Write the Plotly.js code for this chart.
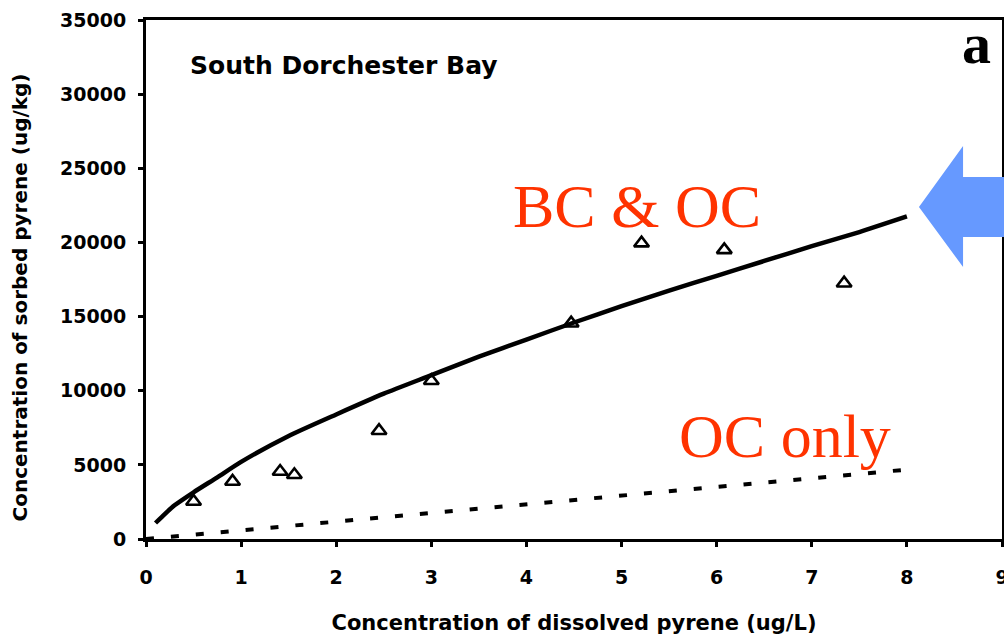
<!DOCTYPE html>
<html>
<head>
<meta charset="utf-8">
<script src="https://cdn.plot.ly/plotly-3.0.1.min.js"></script>
<style>
  html, body { margin: 0; padding: 0; background: #ffffff; }
  #chart { width: 1004px; height: 636px; }
</style>
</head>
<body>
<div id="chart"></div>
<script>
// Observed sorption data (triangles)
const obsX = [0.50, 0.91, 1.41, 1.56, 2.45, 3.00, 4.47, 5.21, 6.08, 7.34];
const obsY = [2530, 3880, 4550, 4330, 7300, 10670, 14550, 19950, 19500, 17250];

// BC & OC model curve (solid)
const bcocX = [0.1, 0.2, 0.3, 0.5, 0.75, 1, 1.5, 2, 2.5, 3, 3.5, 4, 4.5, 5, 5.5, 6, 6.5, 7, 7.5, 8];
const bcocY = [1080, 1700, 2270, 3150, 4160, 5200, 6950, 8400, 9800, 11050, 12300, 13450, 14600, 15700, 16750, 17750, 18750, 19750, 20700, 21750];

// OC only model line (dashed)
const ocX = [0, 2, 4, 6, 8];
const ocY = [0, 1170, 2340, 3510, 4680];

// Tick values
const xTicks = [0, 1, 2, 3, 4, 5, 6, 7, 8, 9];
const yTicks = [0, 5000, 10000, 15000, 20000, 25000, 30000, 35000];

const tickFont = {family: 'DejaVu Sans, Arial, sans-serif', size: 19, color: '#000', weight: 'bold'};
const titleFont = {family: 'DejaVu Sans, Arial, sans-serif', size: 20, color: '#000', weight: 'bold'};
const red = '#ff3300';

const traces = [
  {x: ocX, y: ocY, mode: 'lines', line: {color: '#000', width: 4, dash: '8px,17px'}, hoverinfo: 'skip', showlegend: false},
  {x: bcocX, y: bcocY, mode: 'lines', line: {color: '#000', width: 4.5, shape: 'spline', smoothing: 0.6}, showlegend: false},
  {x: obsX, y: obsY, mode: 'markers', marker: {symbol: 'triangle-up-open', size: 13, color: '#000', line: {width: 2.6, color: '#000'}}, showlegend: false}
];

const axisCommon = {
  showgrid: false, zeroline: false, showline: true, linecolor: '#000', linewidth: 3,
  mirror: true, ticks: 'outside', ticklen: 5, tickwidth: 3, tickcolor: '#000',
  tickfont: tickFont, ticklabeloverflow: 'allow'
};

const layout = {
  width: 1004, height: 636,
  margin: {l: 146, r: 2, t: 20, b: 97},
  paper_bgcolor: '#fff', plot_bgcolor: '#fff',
  showlegend: false,
  xaxis: Object.assign({}, axisCommon, {
    range: [0, 9], tickvals: xTicks, ticktext: xTicks.map(String),
    ticklabelstandoff: 14,
    title: {text: 'Concentration of dissolved pyrene (ug/L)', font: {family: titleFont.family, size: 21, color: '#000', weight: 'bold'}, standoff: 29}
  }),
  yaxis: Object.assign({}, axisCommon, {
    range: [0, 35000], tickvals: yTicks, ticktext: yTicks.map(String),
    ticklabelstandoff: 8
  }),
  xaxis2: {overlaying: 'x', range: [0, 9], tickvals: xTicks, showticklabels: false, ticks: 'inside', ticklen: 5, tickwidth: 3, tickcolor: '#000', showgrid: false, zeroline: false, showline: false, anchor: 'y'},
  yaxis2: {overlaying: 'y', range: [0, 35000], tickvals: yTicks, showticklabels: false, ticks: 'inside', ticklen: 5, tickwidth: 3, tickcolor: '#000', showgrid: false, zeroline: false, showline: false, anchor: 'x'},
  annotations: [
    {text: 'Concentration of sorbed pyrene (ug/kg)', textangle: -90, x: -0.147, y: 16300, xref: 'paper', yref: 'y',
     xanchor: 'center', yanchor: 'middle', showarrow: false, font: titleFont},
    {text: 'South Dorchester Bay', x: 0.44, y: 31900, xref: 'x', yref: 'y', xanchor: 'left', yanchor: 'middle', showarrow: false,
     font: {family: 'DejaVu Sans, Arial, sans-serif', size: 25, color: '#000', weight: 'bold'}},
    {text: 'a', x: 8.73, y: 33400, xref: 'x', yref: 'y', xanchor: 'center', yanchor: 'middle', showarrow: false,
     font: {family: 'Liberation Serif, Times New Roman, serif', size: 58, color: '#000', weight: 'bold'}},
    {text: 'BC &amp; OC', x: 5.16, y: 22450, xref: 'x', yref: 'y', xanchor: 'center', yanchor: 'middle', showarrow: false,
     font: {family: 'Liberation Serif, Times New Roman, serif', size: 62, color: red}},
    {text: 'OC only', x: 6.72, y: 6950, xref: 'x', yref: 'y', xanchor: 'center', yanchor: 'middle', showarrow: false,
     font: {family: 'Liberation Serif, Times New Roman, serif', size: 62, color: red}}
  ],
  shapes: [
    {type: 'path', xref: 'paper', yref: 'paper', layer: 'above',
     path: 'M 0.903 0.6397 L 0.9545 0.7572 L 0.9545 0.6975 L 1.003 0.6975 L 1.003 0.5819 L 0.9545 0.5819 L 0.9545 0.5241 Z',
     fillcolor: '#6699ff', line: {width: 0}}
  ]
};

Plotly.newPlot('chart', traces, layout, {staticPlot: true, displayModeBar: false});
</script>
</body>
</html>
